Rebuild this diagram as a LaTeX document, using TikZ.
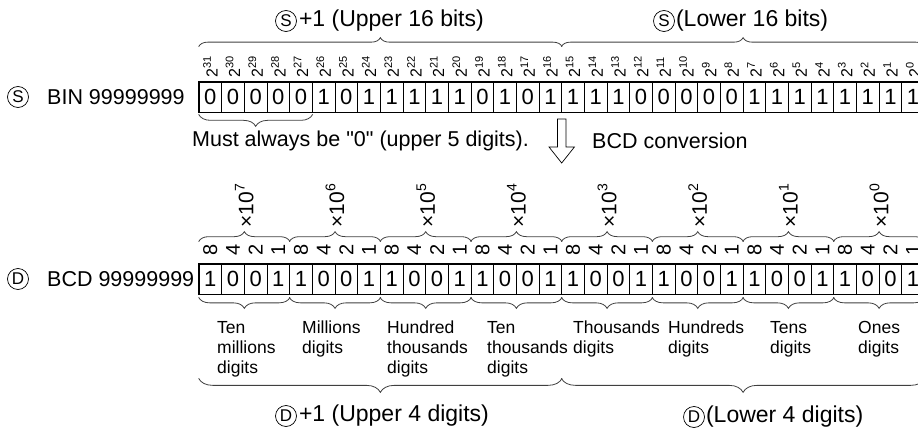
\documentclass[tikz,border=0pt]{standalone}
\usepackage{fontspec}
\setmainfont{Liberation Sans}[Ligatures=TeXOff]
\usetikzlibrary{positioning, decorations.pathreplacing, calc}
\newcommand{\cw}{22.67}
\newcommand{\raised}[2]{\raisebox{0.42em}{\fontsize{#1}{#1}\selectfont #2}}

\begin{document}
\begin{tikzpicture}[
      x=1pt, y=-1pt,
      cell/.style={draw, line width=0.7pt, minimum width=22.67pt, minimum height=30pt, inner sep=0pt, font={\fontsize{22}{22}\selectfont}},
      frame/.style={line width=1.4pt},
      brc/.style={decorate, decoration={brace, amplitude=#1}, line width=0.8pt, black!75},
      brc/.default=9pt,
      lbl/.style={inner sep=0pt, font={\fontsize{21.5}{24}\selectfont}},
      ttl/.style={inner sep=0pt, font={\fontsize{23}{26}\selectfont}},
      circ/.style={draw, circle, line width=0.7pt, minimum size=21pt, inner sep=0pt, font={\fontsize{17}{17}\selectfont}},
      expo/.style={rotate=90, anchor=west, inner sep=0pt, font={\fontsize{16}{16}\selectfont}},
      wt/.style={rotate=90, inner sep=0pt, font={\fontsize{20}{20}\selectfont}},
      mul/.style={rotate=90, anchor=west, inner sep=0pt, font={\fontsize{21}{21}\selectfont}},
      grp/.style={anchor=north west, align=left, inner sep=0pt, font={\fontsize{17.5}{20}\selectfont}}
    ]
    \useasboundingbox (0,0) rectangle (918,433);
    \clip (0,0) rectangle (918,433);

    % source register (BIN)
    \foreach \b [count=\k from 0] in {0,0,0,0,0,1,0,1,1,1,1,1,0,1,0,1,1,1,1,0,0,0,0,0,1,1,1,1,1,1,1,1}
      \node[cell] (t\k) at ({199+\cw*(\k+0.5)}, 97) {\b};
    \draw[frame] (t0.north west) rectangle (t31.south east);
    \foreach \k in {0,...,31}{
      \pgfmathtruncatemacro{\e}{31-\k}
      \node[expo] (e\k) at ([yshift=4pt]t\k.north) {2\raised{11}{\e}};
    }
    \draw[brc] ([yshift=35pt]t0.north west) -- ([yshift=35pt]t15.north east);
    \draw[brc] ([yshift=35pt]t16.north west) -- ([yshift=35pt]t31.north east);
    \node[circ] (ch) at (286,21) {S};
    \node[ttl, right=2pt of ch] (th) {+1 (Upper 16 bits)};
    \node[circ] (cl) at (664,21) {S};
    \node[ttl, right=1pt of cl] (tl) {(Lower 16 bits)};
    \node[circ] (cs) at (18,97) {S};
    \node[lbl, anchor=west] (ns) at (47,97) {BIN 99999999};

    \draw[brc=12pt] ([yshift=-2pt]t4.south east) -- ([yshift=-2pt]t0.south west);
    \node[lbl, anchor=west] (must) at (192,141) {Must always be "0" (upper 5 digits).};
    \node[lbl, anchor=west] (conv) at (592,141) {BCD conversion};
    \draw[line width=0.7pt] (557.5,119) -- (557.5,147) -- (549,147) -- (561.7,163)
      -- (574.4,147) -- (565.9,147) -- (565.9,119) -- cycle;

    % destination register (BCD)
    \foreach \b [count=\k from 0] in {1,0,0,1,1,0,0,1,1,0,0,1,1,0,0,1,1,0,0,1,1,0,0,1,1,0,0,1,1,0,0,1}
      \node[cell] (b\k) at ({199+\cw*(\k+0.5)}, 279) {\b};
    \draw[frame] (b0.north west) rectangle (b31.south east);
    \foreach \w [count=\k from 0] in {8,4,2,1,8,4,2,1,8,4,2,1,8,4,2,1,8,4,2,1,8,4,2,1,8,4,2,1,8,4,2,1}
      \node[wt] (w\k) at ([yshift=14pt]b\k.north) {\w};
    \foreach \g in {0,...,7}{
      \pgfmathtruncatemacro{\ga}{4*\g}
      \pgfmathtruncatemacro{\gz}{4*\g+3}
      \pgfmathtruncatemacro{\p}{7-\g}
      \draw[brc=10pt] ([yshift=22pt]b\ga.north west) -- ([yshift=22pt]b\gz.north east);
      \draw[brc=11pt] ([yshift=-3pt]b\gz.south east) -- ([yshift=-3pt]b\ga.south west);
      \node[mul] (x\g) at ($(b\ga.north west)!0.5!(b\gz.north east)+(0,-36)$) {×10\raised{14}{\p}};
    }
    \foreach \x/\t [count=\g from 0] in {217/{Ten\\millions\\digits}, 302/{Millions\\digits},
        387/{Hundred\\thousands\\digits}, 487/{Ten\\thousands\\digits}, 573/{Thousands\\digits},
        668/{Hundreds\\digits}, 770/{Tens\\digits}, 858/{Ones\\digits}}
      \node[grp] (d\g) at (\x,321) {\t};
    \draw[brc=14pt] ([yshift=-84pt]b15.south east) -- ([yshift=-84pt]b0.south west);
    \draw[brc=14pt] ([yshift=-84pt]b31.south east) -- ([yshift=-84pt]b16.south west);
    \node[circ] (dh) at (286,416) {D};
    \node[ttl, right=2pt of dh] (dhl) {+1 (Upper 4 digits)};
    \node[circ] (dl) at (694,417) {D};
    \node[ttl, right=1pt of dl] (dll) {(Lower 4 digits)};
    \node[circ] (cd) at (18,279) {D};
    \node[lbl, anchor=west] (nd) at (47,279) {BCD 99999999};
  \end{tikzpicture}
\end{document}
